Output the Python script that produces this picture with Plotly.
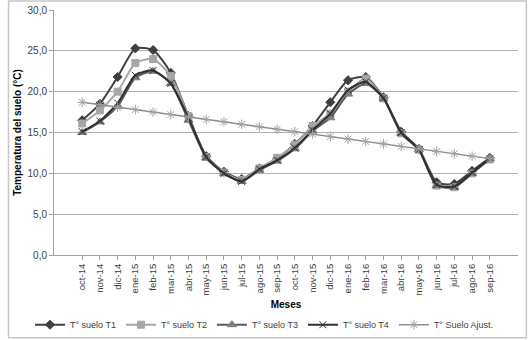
import plotly.graph_objects as go

meses = ["oct-14","nov-14","dic-14","ene-15","feb-15","mar-15","abr-15","may-15","jun-15","jul-15","ago-15","sep-15",
         "oct-15","nov-15","dic-15","ene-16","feb-16","mar-16","abr-16","may-16","jun-16","jul-16","ago-16","sep-16"]

t1 = [16.5, 18.5, 21.8, 25.3, 25.1, 22.3, 17.0, 12.1, 10.2, 9.3, 10.6, 11.8, 13.6, 15.8, 18.7, 21.4, 21.8, 19.3, 15.1, 13.0, 8.9, 8.7, 10.3, 11.9]
t2 = [16.1, 17.7, 20.0, 23.5, 24.0, 21.9, 17.0, 12.0, 10.1, 9.2, 10.6, 11.9, 13.5, 15.8, 17.3, 20.0, 21.6, 19.2, 14.9, 12.9, 8.5, 8.3, 10.0, 11.7]
t3 = [15.0, 16.3, 18.2, 21.7, 22.5, 21.0, 16.5, 11.9, 10.0, 9.0, 10.4, 11.5, 13.0, 15.2, 16.8, 19.7, 21.0, 19.2, 14.9, 12.9, 8.5, 8.3, 10.0, 11.8]
t4 = [15.1, 16.4, 18.6, 22.0, 22.6, 21.0, 16.8, 12.0, 10.0, 9.0, 10.5, 11.6, 13.1, 15.3, 17.3, 20.2, 21.2, 19.2, 15.0, 12.9, 8.6, 8.4, 10.1, 11.8]
ajust = [18.7, 18.4, 18.1, 17.8, 17.5, 17.2, 16.9, 16.6, 16.3, 16.0, 15.7, 15.4, 15.1, 14.8, 14.5, 14.2, 13.9, 13.6, 13.3, 13.0, 12.7, 12.4, 12.1, 11.8]

y_ticks = [0, 5, 10, 15, 20, 25, 30]

fig = go.Figure()

def add(name, y, lc, mc, sym, ms, lw=2.0, shape="spline"):
    fig.add_trace(go.Scatter(x=meses, y=y, name=name, mode="lines+markers",
                             line=dict(color=lc, width=lw, shape=shape, smoothing=0.6),
                             marker=dict(symbol=sym, size=ms, color=mc, line=dict(color=mc, width=1))))

add("T° suelo T1", t1, "#404040", "#404040", "diamond", 7)
add("T° suelo T2", t2, "#a6a6a6", "#a6a6a6", "square", 7)
add("T° suelo T3", t3, "#5a5a5a", "#7f7f7f", "triangle-up", 8)
add("T° suelo T4", t4, "#303030", "#303030", "x-thin-open", 7)
add("T° Suelo Ajust.", ajust, "#8c8c8c", "#a0a0a0", "asterisk-open", 8, lw=1.5, shape="linear")

fig.update_layout(
    width=529, height=340,
    margin=dict(l=54, r=11, t=10, b=85, autoexpand=False),
    paper_bgcolor="white", plot_bgcolor="white",
    separators=",.",
    font=dict(family="Liberation Sans", size=10, color="#404040"),
    showlegend=True,
    legend=dict(orientation="h", xref="container", yref="container", x=0.5, xanchor="center",
                y=0.045, yanchor="middle",
                font=dict(size=9, color="#404040"),
                itemwidth=30, tracegroupgap=0, bgcolor="rgba(0,0,0,0)"),
    xaxis=dict(type="category", tickangle=-90, tickfont=dict(size=9.5, color="#404040"),
               showgrid=False, showline=True, linecolor="#a0a0a0", ticks="outside",
               ticklen=4, tickcolor="#a0a0a0",
               title=dict(text="<b>Meses</b>", font=dict(size=10, color="#000000"), standoff=10)),
    yaxis=dict(range=[0, 30], tickvals=y_ticks, tickformat=".1f",
               tickfont=dict(size=10, color="#404040"),
               showgrid=True, gridcolor="#b0b0b0", gridwidth=1,
               showline=True, linecolor="#a0a0a0", ticks="outside", ticklen=4, tickcolor="#a0a0a0",
               zeroline=False,
               title=dict(text="<b>Temperatura del suelo (°C)</b>", font=dict(size=10, color="#000000"), standoff=4)),
)

fig.add_shape(type="rect", xref="paper", yref="paper", x0=-0.098, y0=-0.338, x1=1.018, y1=1.037,
              line=dict(color="#c8c8c8", width=1.5), fillcolor="rgba(0,0,0,0)")

fig.write_html("out.html", config={"displayModeBar": False},
               post_script="document.body.style.margin='0';")
